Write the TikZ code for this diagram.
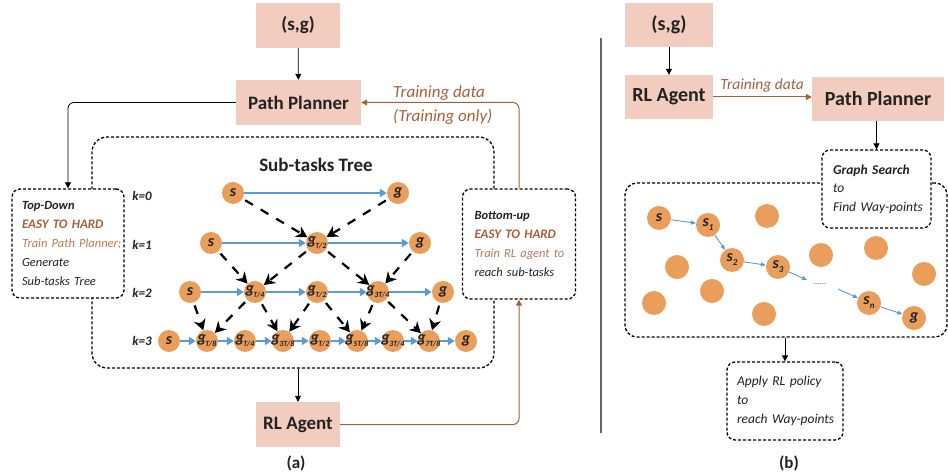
\documentclass[tikz,border=0pt]{standalone}
\usepackage{fontspec}
\setmainfont{Carlito}
\usetikzlibrary{arrows.meta}
\definecolor{boxpink}{RGB}{242,204,190}
\definecolor{orng}{RGB}{233,158,92}
\definecolor{blu}{RGB}{91,155,213}
\definecolor{brn}{RGB}{165,96,58}
\definecolor{lbrn}{RGB}{184,124,88}
\definecolor{txt}{RGB}{34,34,34}
\newcommand{\gsb}[1]{\makebox[0pt]{g\kern-0.5pt\raisebox{-0.5ex}{\fontsize{8}{8}\selectfont #1}}}
\newcommand{\ssb}[1]{s\raisebox{-0.5ex}{\fontsize{9}{9}\selectfont #1}}
\begin{document}
\begin{tikzpicture}[x=1pt,y=-1pt,
  pbox/.style={fill=boxpink, inner sep=0pt, text=txt, font=\fontsize{19}{19}\selectfont\bfseries},
  dbox/.style={draw=black, line width=1.3pt, dash pattern=on 3pt off 2pt, rounded corners=8pt, fill=white},
  conn/.style={draw=black, line width=0.8pt, -{Triangle[length=6pt,width=6pt]}},
  bconn/.style={draw=brn, line width=1pt, -{Triangle[length=6pt,width=6pt]}, rounded corners=6pt},
  tn/.style={circle, fill=orng, minimum size=22pt, inner sep=0pt, text=txt, font=\fontsize{16}{16}\selectfont\bfseries\itshape},
  bn/.style={circle, fill=orng, minimum size=24pt, inner sep=0pt, text=txt, font=\fontsize{16}{16}\selectfont\bfseries\itshape},
  barr/.style={draw=blu, line width=2pt, -{Triangle[length=7pt,width=8pt]}},
  darr/.style={draw=black, line width=2.2pt, dash pattern=on 9pt off 9pt, shorten <=3pt, -{Stealth[length=11pt,width=12pt]}},
  sarr/.style={draw=blu, line width=0.9pt, -{Triangle[length=5pt,width=4pt]}},
  klab/.style={font=\fontsize{13}{13}\selectfont\bfseries\itshape, text=txt},
  boxtext/.style={align=left, inner ysep=0pt, text=txt},
]
\path[use as bounding box] (0,0) rectangle (948,473);

% ---------------- (a) ----------------
\node[pbox, minimum width=84pt, minimum height=45pt] (sg) at (298,25.5) {(s,g)};
\node[pbox, minimum width=125pt, minimum height=45pt] (pp) at (298.5,102.5) {Path Planner};
\node[pbox, minimum width=84pt, minimum height=45pt] (rl) at (298,424.5) {RL Agent};

\node[dbox, rounded corners=15pt, fill=none, minimum width=402pt, minimum height=231pt] (tree) at (293,252.5) {};
\node[font=\fontsize{19}{19}\selectfont\bfseries, text=txt] (title) at (316,165) {Sub-tasks Tree};

\node[dbox, boxtext, text width=92pt, inner xsep=10pt, minimum height=109pt,
  font=\fontsize{12.5}{19}\selectfont\itshape] (td) at (68,243.5)
  {\mbox{\textbf{Top-Down}}\\ \mbox{\textcolor{brn}{\fontsize{13}{19}\selectfont\textbf{EASY TO HARD}}}\\ \mbox{\textcolor{lbrn}{Train Path Planner;}}\\ \mbox{Generate}\\ \mbox{Sub-tasks Tree}};
\node[dbox, boxtext, text width=89pt, inner xsep=12pt, minimum height=110pt,
  font=\fontsize{12.5}{19}\selectfont\itshape] (bu) at (519,244)
  {\mbox{\textbf{Bottom-up}}\\ \mbox{\textcolor{brn}{\fontsize{13}{19}\selectfont\textbf{EASY TO HARD}}}\\ \mbox{\textcolor{lbrn}{Train RL agent to}}\\ \mbox{reach sub-tasks}};

\node[anchor=west, align=left, inner sep=0pt, text=brn, font=\fontsize{17}{24}\selectfont\itshape] (tdlab) at (393,105) {Training data\\(Training only)};

% k labels
\node[klab] (k0) at (142,196) {k=0};
\node[klab] (k1) at (142,245) {k=1};
\node[klab] (k2) at (142,293) {k=2};
\node[klab] (k3) at (142,341) {k=3};

% tree nodes
\node[tn] (a0s) at (233,193) {s};
\node[tn] (a0g) at (398,193) {g};
\node[tn] (a1s) at (211,243) {s};
\node[tn] (a1m) at (317,243) {\gsb{T/2}};
\node[tn] (a1g) at (420,243) {g};
\node[tn] (a2s) at (190,292) {s};
\node[tn] (a2a) at (255,292) {\gsb{T/4}};
\node[tn] (a2b) at (317,292) {\gsb{T/2}};
\node[tn] (a2c) at (378,292) {\gsb{3T/4}};
\node[tn] (a2g) at (443,292) {g};
\node[tn] (b0) at (169,341) {s};
\node[tn] (b1) at (207,341) {\gsb{T/8}};
\node[tn] (b2) at (245,341) {\gsb{T/4}};
\node[tn] (b3) at (283,341) {\gsb{3T/8}};
\node[tn] (b4) at (320,341) {\gsb{T/2}};
\node[tn] (b5) at (357,341) {\gsb{5T/8}};
\node[tn] (b6) at (393,341) {\gsb{3T/4}};
\node[tn] (b7) at (429,341) {\gsb{7T/8}};
\node[tn] (b8) at (466,341) {g};

% blue arrows
\draw[barr] (a0s) -- (a0g);
\draw[barr] (a1s) -- (a1m);
\draw[barr] (a1m) -- (a1g);
\draw[barr] (a2s) -- (a2a);
\draw[barr] (a2a) -- (a2b);
\draw[barr] (a2b) -- (a2c);
\draw[barr] (a2c) -- (a2g);
\foreach \i/\j in {b0/b1,b1/b2,b2/b3,b3/b4,b4/b5,b5/b6,b6/b7,b7/b8}
  \draw[barr] (\i) -- (\j);

% dashed arrows
\draw[darr] (a0s) -- (a1m);
\draw[darr] (a0g) -- (a1m);
\draw[darr] (a1s) -- (a2a);
\draw[darr] (a1m) -- (a2a);
\draw[darr] (a1m) -- (a2c);
\draw[darr] (a1g) -- (a2c);
\draw[darr] (a2s) -- (b1);
\draw[darr] (a2a) -- (b1);
\draw[darr] (a2a) -- (b3);
\draw[darr] (a2b) -- (b3);
\draw[darr] (a2b) -- (b5);
\draw[darr] (a2c) -- (b5);
\draw[darr] (a2c) -- (b7);
\draw[darr] (a2g) -- (b7);

% connectors (a)
\draw[conn] (sg) -- (pp);
\draw[conn, rounded corners=6pt] (pp.west) -| (td.north);
\draw[conn] (rl.north |- tree.south) -- (rl.north);
\draw[bconn] (bu.north) |- (pp.east);
\draw[bconn] (rl.east) -| (bu.south);

\node[font=\fontsize{17}{17}\selectfont\bfseries, text=txt] (la) at (296,463) {(a)};

% separator
\coordinate (sep1) at (601,38);
\coordinate (sep2) at (601,433);
\draw[black!60, line width=1.2pt] (sep1) -- (sep2);

% ---------------- (b) ----------------
\node[pbox, minimum width=88pt, minimum height=44pt, font=\fontsize{20}{20}\selectfont\bfseries] (sg2) at (669,25) {(s,g)};
\node[pbox, minimum width=88pt, minimum height=44pt, font=\fontsize{20}{20}\selectfont\bfseries] (rl2) at (669,97) {RL Agent};
\node[pbox, minimum width=132pt, minimum height=44pt, font=\fontsize{20}{20}\selectfont\bfseries] (pp2) at (878,99) {Path Planner};

\node[dbox, fill=none, rounded corners=12pt, minimum width=322pt, minimum height=154pt] (big) at (786,260) {};
\node[dbox, boxtext, text width=87pt, inner xsep=11pt, minimum height=78pt,
  font=\fontsize{13.5}{18.5}\selectfont\itshape] (gs) at (876.5,189)
  {\mbox{\textbf{Graph Search}}\\ \mbox{to}\\ \mbox{Find Way-points}};
\node[dbox, boxtext, text width=96pt, inner xsep=10pt, minimum height=78pt,
  font=\fontsize{13.5}{19}\selectfont\itshape] (ap) at (785,401)
  {\mbox{Apply RL policy}\\ \mbox{to}\\ \mbox{reach Way-points}};

\draw[conn] (sg2) -- (rl2);
\draw[bconn] (rl2.east) -- (rl2.east -| pp2.west);
\node[text=brn, font=\fontsize{15.5}{15.5}\selectfont\itshape] (tdlab2) at (762,85) {Training data};
\draw[conn] (gs.north |- pp2.south) -- (gs.north);
\draw[conn] (ap.north |- big.south) -- (ap.north);

% (b) circles
\node[bn] (s0) at (659,218) {s};
\node[bn] (s1) at (708,225) {\ssb{1}};
\node[bn] (s2) at (732,260) {\ssb{2}};
\node[bn] (s3) at (778,267) {\ssb{3}};
\node[bn] (sn) at (869,303) {\ssb{n}};
\node[bn] (sg3) at (914,318) {g};
\node[bn] (e1) at (767,216) {};
\node[bn] (e2) at (677,267) {};
\node[bn] (e3) at (712,291) {};
\node[bn] (e4) at (654,303) {};
\node[bn] (e5) at (764,314) {};
\node[bn] (e6) at (821,255) {};
\node[bn] (e7) at (876,248) {};
\node[bn] (e8) at (924,274) {};
\coordinate (c1) at (807,280);
\coordinate (c2) at (838,289);
\node[font=\fontsize{8}{8}\selectfont, text=black!70] (dots) at (820,284) {......};

\draw[sarr] (s0) -- (s1);
\draw[sarr] (s1) -- (s2);
\draw[sarr] (s2) -- (s3);
\draw[sarr] (s3) -- (c1);
\draw[sarr] (c2) -- (sn);
\draw[sarr] (sn) -- (sg3);

\node[font=\fontsize{17}{17}\selectfont\bfseries, text=txt] (lb) at (789,463) {(b)};
\end{tikzpicture}
\end{document}
